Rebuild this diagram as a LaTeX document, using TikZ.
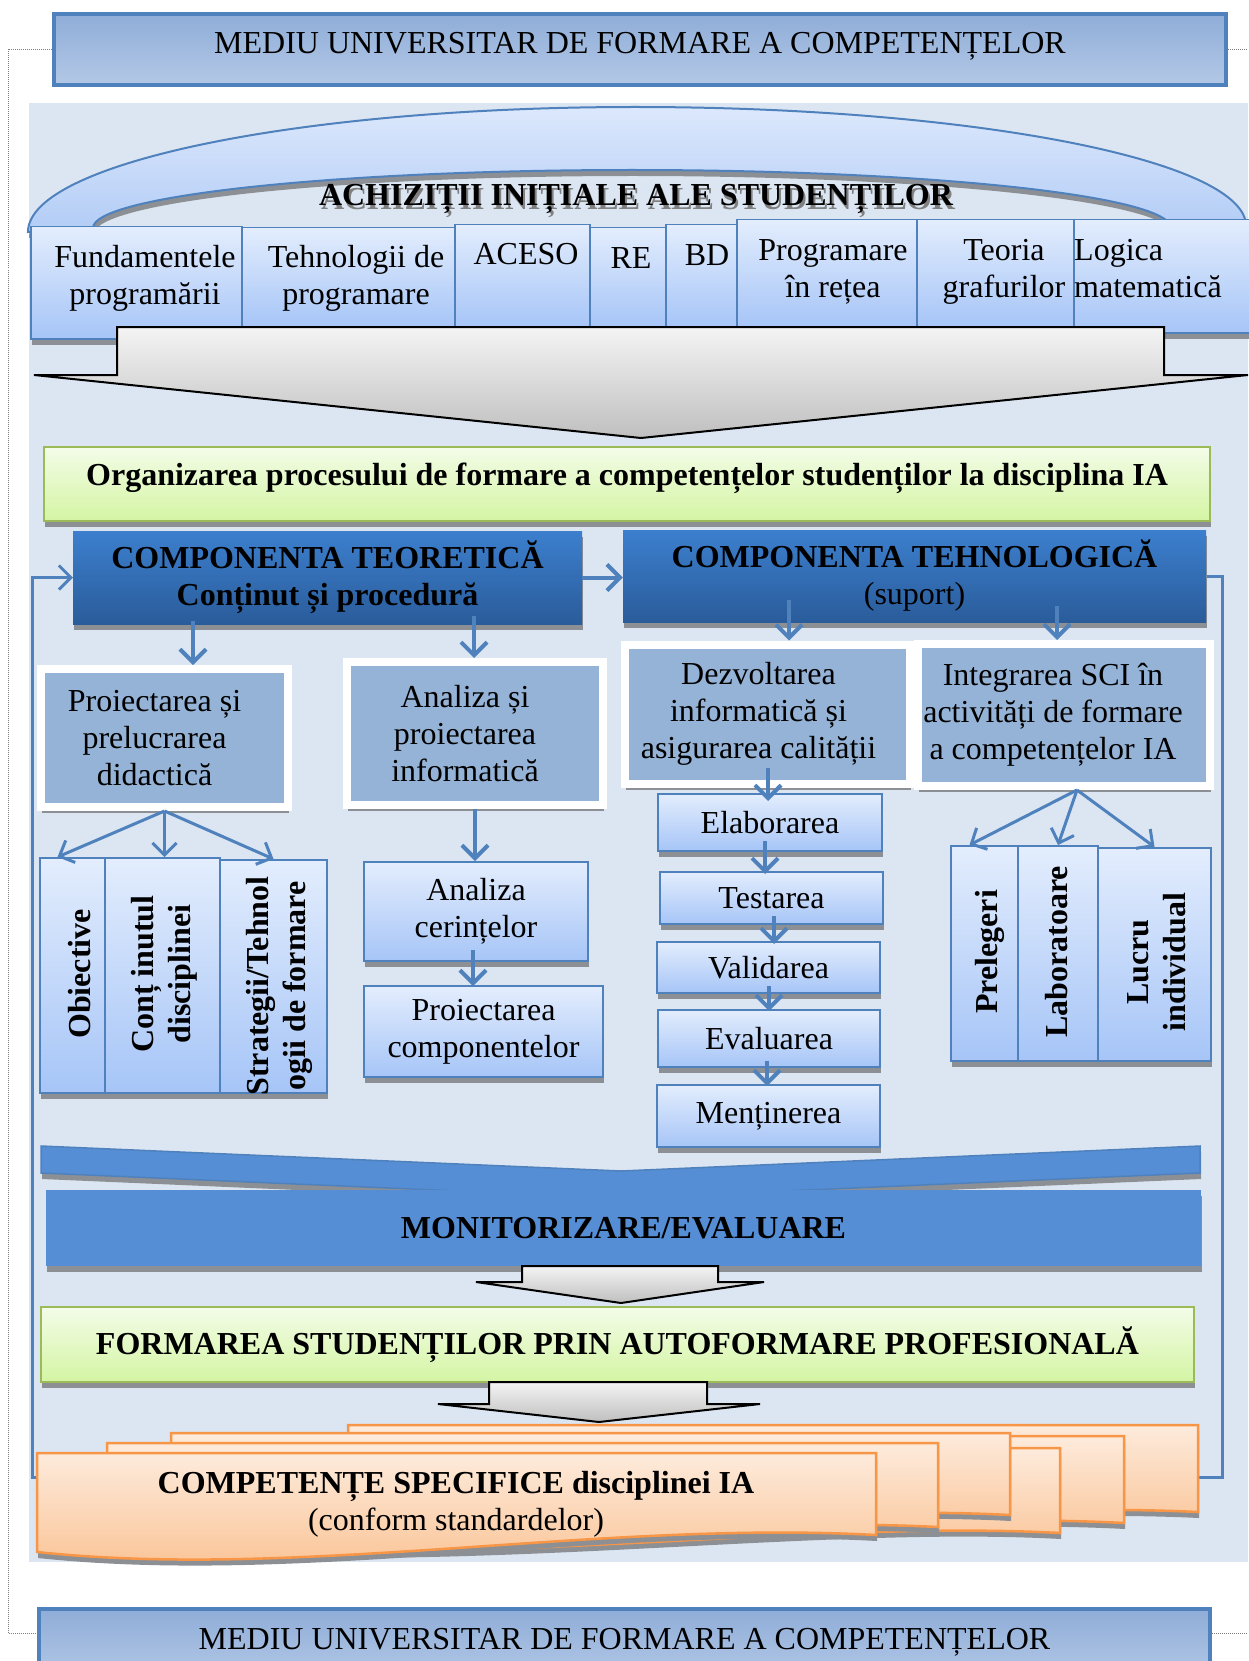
\documentclass[tikz,border=0pt]{standalone}
\usepackage{fontspec}
\setmainfont{Liberation Serif}
\usetikzlibrary{arrows.meta, positioning, shadows, calc}

\definecolor{panelbg}{HTML}{DCE6F2}
\definecolor{lineblue}{HTML}{4F81BD}
\definecolor{bantop}{HTML}{8FADD8}
\definecolor{banbot}{HTML}{B3C8E6}
\definecolor{archtop}{HTML}{DCE8FC}
\definecolor{archbot}{HTML}{B2CCF6}
\definecolor{lighttop}{HTML}{E3EDFD}
\definecolor{lightbot}{HTML}{A6C5F7}
\definecolor{graytop}{HTML}{F4F4F4}
\definecolor{graybot}{HTML}{BFBFBF}
\definecolor{greentop}{HTML}{F3FCE8}
\definecolor{greenbot}{HTML}{D4F5A3}
\definecolor{greenline}{HTML}{9BBB59}
\definecolor{headtop}{HTML}{3C7FCE}
\definecolor{headbot}{HTML}{2A5C9A}
\definecolor{midblue}{HTML}{95B3D7}
\definecolor{monblue}{HTML}{558ED5}
\definecolor{cardtop}{HTML}{FDEBDC}
\definecolor{cardbot}{HTML}{FAC08F}
\definecolor{cardline}{HTML}{F79646}
\definecolor{shade}{HTML}{8C8F94}

\tikzstyle{txt} = [font=\fontsize{32}{37}\selectfont]
\tikzstyle{boldtxt} = [font=\fontsize{32}{37}\selectfont\bfseries]
\tikzstyle{shadowed} = [drop shadow={shadow xshift=1pt, shadow yshift=-6pt, fill=shade, opacity=1}]
\tikzstyle{banner} = [rectangle, draw=lineblue, line width=4, top color=bantop, bottom color=banbot, minimum width=1172, minimum height=71, txt, text height=24pt, text depth=15pt]
\tikzstyle{dotline} = [draw=gray, line width=1, densely dotted]
\tikzstyle{arch} = [draw=lineblue, line width=2, top color=archtop, bottom color=archbot, shadowed]
\tikzstyle{tabbox} = [rectangle, draw=lineblue, line width=1.5, top color=lighttop, bottom color=lightbot, anchor=north west, inner sep=0, shadowed]
\tikzstyle{tabtext} = [txt, anchor=north, align=center, inner sep=0]
\tikzstyle{blockarrow} = [draw=black, line width=2, top color=graytop, bottom color=graybot]
\tikzstyle{orgbox} = [rectangle, draw=greenline, line width=2.5, top color=greentop, bottom color=greenbot, boldtxt, shadowed]
\tikzstyle{comp} = [rectangle, top color=headtop, bottom color=headbot, align=center, boldtxt, inner sep=0, shadowed]
\tikzstyle{area} = [rectangle, draw=white, line width=8, fill=midblue, inner sep=0, shadowed]
\tikzstyle{areatext} = [txt, align=center, inner sep=0]
\tikzstyle{vert} = [rectangle, draw=lineblue, line width=2, top color=lighttop, bottom color=lightbot, anchor=north west, inner sep=0, shadowed]
\tikzstyle{vtext} = [boldtxt, rotate=90, align=center, inner sep=0]
\tikzstyle{phase} = [rectangle, draw=lineblue, line width=2, top color=lighttop, bottom color=lightbot, align=center, txt, inner sep=0, shadowed]
\tikzstyle{card} = [draw=cardline, line width=2.5, top color=cardtop, bottom color=cardbot, shadowed]
\tikzstyle{reg} = [-{Straight Barb[length=13pt,width=26pt]}, line width=4, draw=lineblue]
\tikzstyle{regthin} = [-{Straight Barb[length=12pt,width=24pt]}, line width=3, draw=lineblue]

\begin{document}
\begin{tikzpicture}[x=1pt, y=-1pt]
  \useasboundingbox (0,0) rectangle (1248,1661);
  \fill[panelbg] (29,103) rectangle (1248,1562);

  % Mediu universitar
  \node[banner] (top) at (640,49.5) {MEDIU UNIVERSITAR DE FORMARE A COMPETENȚELOR};
  \node[banner, minimum width=1171] (bot) at (624.5,1644.5) {MEDIU UNIVERSITAR DE FORMARE A COMPETENȚELOR};
  \draw[dotline] (top.west) -- (8,49.5) -- (8,1633) -- (bot.west |- 0,1633);
  \draw[dotline] (top.east) -- (1248,49.5);
  \draw[dotline] (bot.east |- 0,1633) -- (1248,1633);

  % Bucla de revenire
  \draw[regthin] (1206,576) -| (1222,1477) -- (32,1477) |- (73,577.5);

  % Achizitii initiale
  \draw[arch] (28,232) .. controls (28,163) and (300,107) .. (635,107)
    .. controls (970,107) and (1246,160) .. (1246,226) -- (1171,228)
    .. controls (1171,196) and (930,170) .. (632,170)
    .. controls (334,170) and (93,196) .. (93,228) -- cycle;
  \node[boldtxt] (ach) at (636,201)
    {\rlap{\kern2pt\raisebox{-4pt}{\color{gray}ACHIZIȚII INIȚIALE ALE STUDENȚILOR}}ACHIZIȚII INIȚIALE ALE STUDENȚILOR};

  \node[tabbox, minimum width=211, minimum height=112] (t1) at (30,226) {};
  \node[tabbox, minimum width=213, minimum height=99] (t2) at (241,227) {};
  \node[tabbox, minimum width=135, minimum height=102] (t3) at (454,224) {};
  \node[tabbox, minimum width=76, minimum height=99] (t4) at (589,227) {};
  \node[tabbox, minimum width=71, minimum height=102] (t5) at (665,224) {};
  \node[tabbox, minimum width=180, minimum height=107] (t6) at (736,219) {};
  \node[tabbox, minimum width=157, minimum height=107] (t7) at (916,219) {};
  \node[tabbox, minimum width=180, minimum height=113] (t8) at (1073,219) {};
  \node[tabtext] (t1t) at (145,245) {Fundamentele\\programării};
  \node[tabtext] (t2t) at (356,245) {Tehnologii de\\programare};
  \node[tabtext] (t3t) at (526,243) {ACESO};
  \node[tabtext] (t4t) at (631,247) {RE};
  \node[tabtext] (t5t) at (707,244) {BD};
  \node[tabtext] (t6t) at (833,239) {Programare\\în rețea};
  \node[tabtext] (t7t) at (1004,239) {Teoria\\grafurilor};
  \node[tabtext, anchor=north west, align=left] (t8t) at (1074,239) {Logica\\matematică};

  \draw[blockarrow] (117,327) -- (1164,327) -- (1164,375) -- (1248,375) -- (641,438)
    -- (34,375) -- (117,375) -- cycle;

  % Organizarea procesului
  \node[orgbox, minimum width=1166, minimum height=74, text height=22pt, text depth=19pt] (org) at (627,484)
    {Organizarea procesului de formare a competențelor studenților la disciplina IA};

  % Componente
  \node[comp, minimum width=509, minimum height=93] (teo) at (327.5,577.5)
    {COMPONENTA TEORETICĂ\\Conținut și procedură};
  \node[comp, minimum width=583, minimum height=92] (teh) at (914.5,576)
    {COMPONENTA TEHNOLOGICĂ\\ \mdseries (suport)};
  \draw[reg] (teo.east) -- (teo.east -| teh.west);

  % Componenta teoretica
  \node[area, minimum width=247, minimum height=138] (pro) at (164.5,738) {};
  \node[area, minimum width=256, minimum height=143] (ana) at (475,733.5) {};
  \node[areatext] (prot) at ([xshift=-10pt]pro.center) {Proiectarea și\\prelucrarea\\didactică};
  \node[areatext] (anat) at ([xshift=-10pt]ana.center) {Analiza și\\proiectarea\\informatică};
  \draw[reg] ($(teo.south -| 193,0)+(0,-3)$) -- (pro.north -| 193,0);
  \draw[reg] ($(teo.south -| 474,0)+(0,-8)$) -- (ana.north -| 474,0);

  \node[vert, minimum width=65, minimum height=235] (ob) at (39,857) {};
  \node[vert, minimum width=115, minimum height=235] (con) at (104,857) {};
  \node[vert, minimum width=107, minimum height=233] (st) at (219,859) {};
  \node[vtext] (obt) at (80,974) {Obiective};
  \node[vtext] (cont) at (164,974) {Conț inutul\\disciplinei};
  \node[vtext] (stt) at (279,986) {Strategii/Tehnol\\ogii de formare};
  \draw[regthin] (pro.south) -- ([xshift=-15pt]ob.north);
  \draw[regthin] (pro.south) -- (pro.south |- con.north);
  \draw[regthin] (pro.south) -- (st.north);

  \node[phase, minimum width=224, minimum height=99] (cer) at (476,911.5) {Analiza\\cerințelor};
  \node[phase, minimum width=239, minimum height=91] (pc) at (483.5,1031.5) {Proiectarea\\componentelor};
  \draw[reg] (ana.south) -- (ana.south |- cer.north);
  \draw[reg] ($(cer.south)+(-3,-12)$) -- ($(cer.south -| 473,0)+(0,24)$);

  % Componenta tehnologica
  \node[area, minimum width=285, minimum height=139] (dez) at (767.5,714) {};
  \node[area, minimum width=292, minimum height=142] (int) at (1064,715) {};
  \node[areatext] (dezt) at ([xshift=-9pt]dez.center) {Dezvoltarea\\informatică și\\asigurarea calității};
  \node[areatext] (intt) at ([xshift=-11pt]int.center) {Integrarea SCI în\\activități de formare\\a competențelor IA};
  \draw[reg] ($(teh.south -| 789,0)+(0,-22)$) -- (dez.north -| 789,0);
  \draw[reg] ($(teh.south -| 1057,0)+(0,-16)$) -- (int.north -| 1057,0);

  \node[phase, minimum width=224, minimum height=57] (ela) at (770,822.5) {Elaborarea};
  \node[phase, minimum width=223, minimum height=52] (tes) at (771.5,898) {Testarea};
  \node[phase, minimum width=223, minimum height=51] (val) at (768.5,967.5) {Validarea};
  \node[phase, minimum width=222, minimum height=57] (eva) at (769,1038.5) {Evaluarea};
  \node[phase, minimum width=223, minimum height=62] (men) at (768.5,1116) {Menținerea};
  \draw[reg] ($(dez.south -| 768,0)+(0,-20)$) -- ($(ela.north -| 768,0)+(0,8)$);
  \draw[reg] ($(ela.south -| 765,0)+(0,-11)$) -- ($(tes.north -| 765,0)+(0,3)$);
  \draw[reg] ($(tes.south -| 774,0)+(0,-9)$) -- ($(val.north -| 774,0)+(0,3)$);
  \draw[reg] ($(val.south -| 769,0)+(0,-8)$) -- ($(eva.north -| 769,0)+(0,2)$);
  \draw[reg] ($(eva.south -| 767,0)+(0,-7)$) -- ($(men.north -| 767,0)+(0,2)$);

  \node[vert, minimum width=67, minimum height=215] (pre) at (950,845) {};
  \node[vert, minimum width=80, minimum height=215] (lab) at (1017,845) {};
  \node[vert, minimum width=113, minimum height=213] (luc) at (1097,847) {};
  \node[vtext] (pret) at (990,952) {Prelegeri};
  \node[vtext] (labt) at (1057,952) {Laboratoare};
  \node[vtext] (luct) at (1157,962) {Lucru\\individual};
  \draw[regthin] ([xshift=13pt]int.south) -- ([xshift=-15pt]pre.north);
  \draw[regthin] ([xshift=13pt]int.south) -- (lab.north);
  \draw[regthin] ([xshift=13pt]int.south) -- (luc.north);

  % Monitorizare
  \draw[draw=lineblue, line width=1.5, fill=monblue, shadowed] (41,1146) -- (621,1171) -- (1200,1146)
    -- (1200,1173) -- (621,1198) -- (41,1173) -- cycle;
  \node[rectangle, fill=monblue, boldtxt, minimum width=1155, minimum height=76, shadowed] (mon) at (623.5,1228) {MONITORIZARE/EVALUARE};
  \draw[blockarrow] (522,1266) -- (718,1266) -- (718,1282) -- (764,1282) -- (621,1303)
    -- (476,1282) -- (522,1282) -- cycle;

  % Formarea studentilor
  \node[orgbox, minimum width=1153, minimum height=75] (for) at (617.5,1344.5)
    {FORMAREA STUDENȚILOR PRIN AUTOFORMARE PROFESIONALĂ};
  \draw[blockarrow] (489,1382) -- (707,1382) -- (707,1404) -- (760,1404) -- (599,1422)
    -- (438,1404) -- (489,1404) -- cycle;

  % Competente specifice
  \draw[card] (348,1425) -- (1198,1425) -- (1198,1512) .. controls (950,1500) and (650,1545) .. (348,1528) -- cycle;
  \draw[card] (260,1436) -- (1124,1436) -- (1124,1523) .. controls (880,1510) and (560,1555) .. (260,1540) -- cycle;
  \draw[card] (200,1448) -- (1060,1448) -- (1060,1533) .. controls (820,1520) and (500,1565) .. (200,1548) -- cycle;
  \draw[card] (171,1433) -- (1010,1433) -- (1010,1515) .. controls (760,1502) and (450,1550) .. (171,1535) -- cycle;
  \draw[card] (107,1443) -- (938,1443) -- (938,1527) .. controls (680,1514) and (380,1565) .. (107,1545) -- cycle;
  \draw[card] (37,1453) -- (876,1453) -- (876,1535) .. controls (600,1520) and (300,1580) .. (37,1552) -- cycle;
  \node[boldtxt, align=center] (cs) at (456,1504) {COMPETENȚE SPECIFICE disciplinei IA\\ \mdseries (conform standardelor)};
\end{tikzpicture}
\end{document}
